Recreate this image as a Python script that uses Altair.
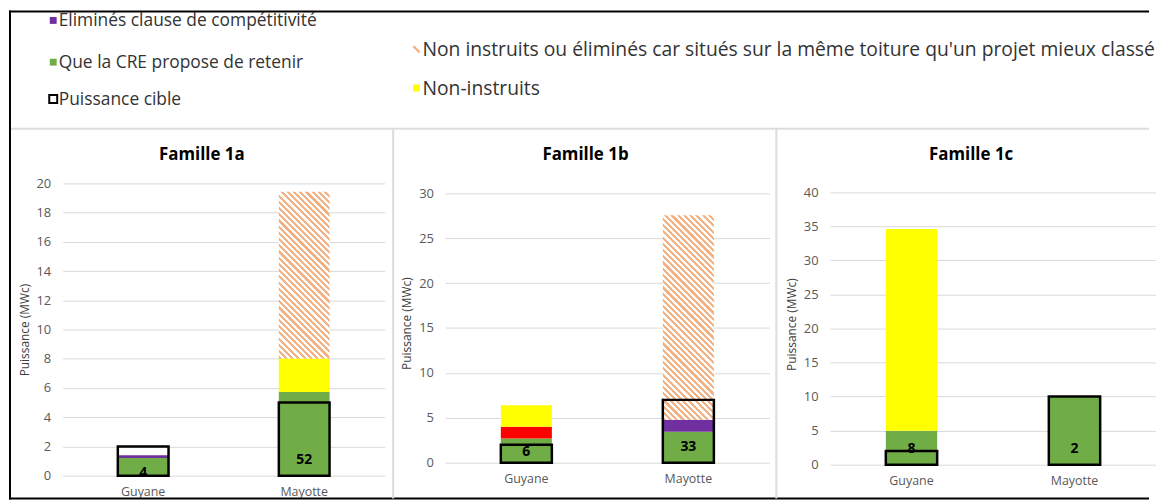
import altair as alt
import pandas as pd

FONT = "Open Sans"
GREEN, RED, PURPLE, YELLOW, HATCH = "#70AD47", "#FF0000", "#7030A0", "#FFFF00", "#F4B183"

# ---------------- data ----------------
familles = ["Famille 1a", "Famille 1b", "Famille 1c"]
regions = ["Guyane", "Mayotte"]

# stacked segments (MWc), bottom to top, [Guyane, Mayotte] for each famille
retenir = [[1.2, 5.73], [2.7, 3.45], [5.0, 10.0]]
rouge = [[0.0, 0.0], [1.3, 0.0], [0.0, 0.0]]
competitivite = [[0.2, 0.0], [0.0, 1.35], [0.0, 0.0]]
non_instruits = [[0.0, 2.28], [2.4, 0.0], [29.6, 0.0]]
toiture = [[0.0, 11.42], [0.0, 22.75], [0.0, 0.0]]
cible = [[2, 5], [2, 7], [2, 10]]
nb_projets = [[4, 52], [6, 33], [8, 2]]
label_y = [[0.2, 1.1], [1.2, 1.75], [2.35, 2.35]]

y_max = [20.0, 31.1, 41.3]
y_ticks = [
    [0, 2, 4, 6, 8, 10, 12, 14, 16, 18, 20],
    [0, 5, 10, 15, 20, 25, 30],
    [0, 5, 10, 15, 20, 25, 30, 35, 40],
]

legend_labels = [
    "Eliminés clause de compétitivité",
    "Que la CRE propose de retenir",
    "Puissance cible",
    "Non instruits ou éliminés car situés sur la même toiture qu'un projet mieux classé",
    "Non-instruits",
]
legend_colors = [PURPLE, GREEN, "white", HATCH, YELLOW]
legend_kind = ["square", "square", "outline", "hatch", "square"]

# ---------------- layout ----------------
PANEL_W = [324, 326, 328]
PANEL_H = [294, 281, 283]
SPACING = 61
PAD_INNER = 0.685
TITLE_Y = -29
TITLE_DX = -22
LEG_SYM_X = [-9.5, -9.5, -9.5, 356, 356]
LEG_TXT_X = [-4, -4, -4, 362, 362]
LEG_Y = [-163, -121, -84, -134, -95]
LEG_FS = [17.5, 17.5, 17.5, 19.4, 19.4]

frame = pd.DataFrame({
    "x": [-54, -53, -54, -52, 332.5, 718],
    "x2": [1093, -53, 1093, 1093, 332.5, 718],
    "y": [-173, -174, 317, -55, -55, -55],
    "y2": [-173, 318, 317, -55, 317, 317],
    "c": ["#000000", "#000000", "#000000", "#DCDCDC", "#DCDCDC", "#DCDCDC"],
})


def hatch_fill(w, h, period=6.3, frac=0.5):
    k = (w + h) / (w * w + h * h)
    n = max(1, round((w + h) / period))
    stops = []
    for i in range(n):
        a, b, c = i / n, (i + frac) / n, (i + 1) / n
        stops += [
            {"offset": a, "color": HATCH},
            {"offset": b, "color": HATCH},
            {"offset": b, "color": "#FFFFFF"},
            {"offset": c, "color": "#FFFFFF"},
        ]
    return {"gradient": "linear", "x1": 0, "y1": 1, "x2": k * w, "y2": 1 - k * h, "stops": stops}


def xenc():
    return alt.X(
        "region:N",
        scale=alt.Scale(domain=regions, paddingInner=PAD_INNER, paddingOuter=PAD_INNER / 2),
        axis=alt.Axis(title=None, labelAngle=0, domain=False, ticks=False, tickSize=0,
                      labelPadding=10, labelFont=FONT, labelFontSize=12.5,
                      labelColor="#595959", grid=False),
    )


def yenc(i, field):
    return alt.Y(
        field,
        scale=alt.Scale(domain=[0, y_max[i]], nice=False, zero=True),
        axis=alt.Axis(values=y_ticks[i], title="Puissance (MWc)", grid=True,
                      gridColor="#D9D9D9", gridWidth=1, domain=False, ticks=False,
                      tickSize=0, labelPadding=12, labelFont=FONT, labelFontSize=13,
                      labelColor="#595959", titleFont=FONT, titleFontSize=12,
                      titleFontWeight="normal", titleColor="#404040", titlePadding=5),
    )


def decoration():
    fr = alt.Chart(frame).mark_rule(strokeWidth=2).encode(
        x=alt.X("x:Q", scale=None, axis=None), x2="x2:Q",
        y=alt.Y("y:Q", scale=None, axis=None), y2="y2:Q",
        color=alt.Color("c:N", scale=None, legend=None),
    )
    leg = pd.DataFrame({
        "label": legend_labels, "col": legend_colors, "kind": legend_kind,
        "sx": LEG_SYM_X, "tx": LEG_TXT_X, "ty": LEG_Y, "fs": LEG_FS,
    })
    leg["sy"] = leg["ty"] - 1
    base = alt.Chart(leg)
    sq = base.transform_filter("datum.kind == 'square'").mark_square(size=48, opacity=1).encode(
        x=alt.X("sx:Q", scale=None, axis=None), y=alt.Y("sy:Q", scale=None, axis=None),
        color=alt.Color("col:N", scale=None, legend=None),
    )
    ol = base.transform_filter("datum.kind == 'outline'").mark_square(
        size=64, fill="white", stroke="black", strokeWidth=2, opacity=1).encode(
        x=alt.X("sx:Q", scale=None, axis=None), y=alt.Y("sy:Q", scale=None, axis=None),
    )
    ht = base.transform_filter("datum.kind == 'hatch'").mark_point(
        shape="M-1,-1L1,1", filled=False, stroke=HATCH, strokeWidth=2.2, size=40, opacity=1).encode(
        x=alt.X("sx:Q", scale=None, axis=None), y=alt.Y("sy:Q", scale=None, axis=None),
    )
    tx = base.mark_text(font=FONT, color="#333333", align="left", baseline="middle").encode(
        x=alt.X("tx:Q", scale=None, axis=None), y=alt.Y("ty:Q", scale=None, axis=None),
        text="label:N", size=alt.Size("fs:Q", scale=None, legend=None),
    )
    return [fr, sq, ol, ht, tx]


def panel(i):
    rows = []
    segs = [("retenir", retenir), ("rouge", rouge), ("compet", competitivite), ("noninstr", non_instruits)]
    for j, reg in enumerate(regions):
        base = 0.0
        for name, arr in segs:
            v = arr[i][j]
            if v > 0:
                rows.append({"region": reg, "seg": name, "y0": base, "y1": base + v})
            base += v
    seg_df = pd.DataFrame(rows)
    layers = [
        alt.Chart(seg_df).mark_bar().encode(
            x=xenc(),
            y=yenc(i, "y0:Q"),
            y2="y1:Q",
            color=alt.Color("seg:N", scale=alt.Scale(domain=["retenir", "rouge", "compet", "noninstr"],
                                                     range=[GREEN, RED, PURPLE, YELLOW]), legend=None),
        )
    ]
    for j, reg in enumerate(regions):
        v = toiture[i][j]
        if v > 0:
            start = retenir[i][j] + rouge[i][j] + competitivite[i][j] + non_instruits[i][j]
            h_px = v / y_max[i] * PANEL_H[i]
            w_px = PANEL_W[i] / 2 * (1 - PAD_INNER)
            hdf = pd.DataFrame({"region": [reg], "y0": [start], "y1": [start + v]})
            layers.append(
                alt.Chart(hdf).mark_bar(fill=hatch_fill(w_px, h_px)).encode(
                    x=xenc(), y=yenc(i, "y0:Q"), y2="y1:Q"
                )
            )
    cdf = pd.DataFrame({"region": regions, "y0": [0, 0], "y1": cible[i]})
    layers.append(
        alt.Chart(cdf).mark_bar(fillOpacity=0, stroke="black", strokeWidth=2.5).encode(
            x=xenc(), y=yenc(i, "y0:Q"), y2="y1:Q"
        )
    )
    ldf = pd.DataFrame({"region": regions, "ly": label_y[i], "n": nb_projets[i]})
    layers.append(
        alt.Chart(ldf).mark_text(font=FONT, fontWeight="bold", fontSize=14, color="black",
                                 baseline="middle").encode(
            x=xenc(), y=yenc(i, "ly:Q"), text="n:N"
        )
    )
    tdf = pd.DataFrame({"fam": [familles[i]]})
    layers.append(
        alt.Chart(tdf).mark_text(font=FONT, fontWeight="bold", fontSize=17, color="black",
                                 align="center", baseline="middle").encode(
            x=alt.value(PANEL_W[i] / 2 + TITLE_DX), y=alt.value(TITLE_Y), text="fam:N"
        )
    )
    if i == 0:
        layers += decoration()
    return alt.layer(*layers).properties(width=PANEL_W[i], height=PANEL_H[i])


chart = alt.hconcat(panel(0), panel(1), panel(2),
                    spacing=SPACING, bounds="flush").properties(
    padding=0, background="white"
).configure_view(strokeWidth=0)

chart.save("out.html", embed_options={"renderer": "svg", "actions": False})
